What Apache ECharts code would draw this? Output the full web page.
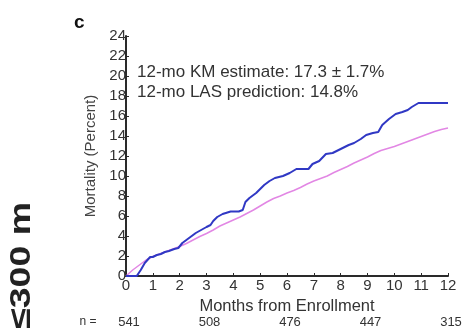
<!DOCTYPE html>
<html>
<head>
<meta charset="utf-8">
<script src="https://cdn.jsdelivr.net/npm/echarts@6/dist/echarts.min.js"></script>
<style>
  html, body { margin: 0; padding: 0; background: #fff; }
  #chart { width: 466px; height: 335px; }
</style>
</head>
<body>
<div id="chart"></div>
<script>
// Kaplan-Meier mortality estimate (months from enrollment, percent)
var kmMonths = [0, 0.4, 0.55, 0.7, 0.9, 1.0, 1.15, 1.3, 1.45, 1.6, 1.8, 1.95, 2.1, 2.3, 2.45, 2.6, 2.8, 3.0,
  3.15, 3.25, 3.4, 3.6, 3.9, 4.2, 4.35, 4.45, 4.6, 4.85, 5.0, 5.15, 5.35, 5.55, 5.85, 6.1, 6.35, 6.8,
  6.95, 7.2, 7.45, 7.7, 8.0, 8.3, 8.5, 8.75, 8.95, 9.2, 9.4, 9.55, 9.8, 10.05, 10.3, 10.5, 10.65, 10.9, 12.0];
var kmMortality = [0, 0, 0.6, 1.3, 1.9, 1.9, 2.1, 2.2, 2.4, 2.5, 2.7, 2.8, 3.3, 3.7, 4.0, 4.3, 4.6, 4.9,
  5.1, 5.5, 5.9, 6.2, 6.45, 6.45, 6.6, 7.4, 7.8, 8.3, 8.7, 9.1, 9.5, 9.8, 10.0, 10.3, 10.7, 10.7,
  11.2, 11.5, 12.2, 12.3, 12.7, 13.1, 13.3, 13.7, 14.1, 14.3, 14.4, 15.1, 15.7, 16.2, 16.4, 16.6, 16.9, 17.3, 17.3];

// Lung Allocation Score predicted mortality
var lasMonths = [0, 0.25, 0.5, 0.75, 1.0, 1.25, 1.5, 1.75, 2.0, 2.25, 2.5, 2.75, 3.0, 3.25, 3.5, 3.75, 4.0,
  4.25, 4.5, 4.75, 5.0, 5.25, 5.5, 5.75, 6.0, 6.25, 6.5, 6.75, 7.0, 7.25, 7.5, 7.75, 8.0, 8.25, 8.5,
  8.75, 9.0, 9.25, 9.5, 9.75, 10.0, 10.25, 10.5, 10.75, 11.0, 11.25, 11.5, 11.75, 12.0];
var lasMortality = [0, 0.6, 1.1, 1.6, 1.95, 2.2, 2.45, 2.7, 2.95, 3.25, 3.6, 3.95, 4.25, 4.6, 5.0, 5.3, 5.6,
  5.9, 6.25, 6.6, 7.0, 7.4, 7.75, 8.0, 8.3, 8.55, 8.85, 9.2, 9.5, 9.75, 10.0, 10.35, 10.65, 10.95, 11.3,
  11.6, 11.9, 12.25, 12.55, 12.75, 12.95, 13.2, 13.45, 13.7, 13.95, 14.2, 14.45, 14.65, 14.8];

// Number at risk every 3 months
var riskMonths = [0, 3, 6, 9, 12];
var nAtRisk = [541, 508, 476, 447, 315];

var kmText = '12-mo KM estimate: 17.3 \u00b1 1.7%';
var lasText = '12-mo LAS prediction: 14.8%';

function pairs(xs, ys) {
  return xs.map(function (x, i) { return [x, ys[i]]; });
}

var FONT = '"Liberation Sans", Arial, sans-serif';
var NARROW = '"Liberation Sans Narrow", "Liberation Sans", sans-serif';

var chart = echarts.init(document.getElementById('chart'), null, { renderer: 'canvas' });
chart.setOption({
  backgroundColor: '#fff',
  animation: false,
  grid: { left: 126, right: 18, top: 36, bottom: 59, containLabel: false },
  xAxis: [{
    type: 'value', min: 0, max: 12, interval: 1,
    name: 'Months from Enrollment', nameLocation: 'middle', nameGap: 21,
    nameTextStyle: { fontFamily: FONT, fontSize: 16.5, color: '#333' },
    axisLine: { lineStyle: { color: '#2a2a2a', width: 2 } },
    axisTick: { show: true, inside: true, length: 3, lineStyle: { color: '#2a2a2a' } },
    axisLabel: { fontFamily: FONT, fontSize: 15, color: '#333', margin: 2 },
    splitLine: { show: false }
  }, {
    type: 'value', min: 0, max: 12, interval: 3, position: 'bottom', offset: 40,
    axisLine: { show: false }, axisTick: { show: false }, splitLine: { show: false },
    axisLabel: {
      fontFamily: FONT, fontSize: 13, color: '#333', margin: 0, padding: [0, 0, 0, 6],
      formatter: function (v) { var i = riskMonths.indexOf(v); return i >= 0 ? String(nAtRisk[i]) : ''; }
    }
  }],
  yAxis: {
    type: 'value', min: 0, max: 24, interval: 2,
    name: 'Mortality (Percent)', nameLocation: 'middle', nameGap: 27,
    nameTextStyle: { fontFamily: FONT, fontSize: 15, color: '#444' },
    axisLine: { show: true, lineStyle: { color: '#2a2a2a', width: 2 } },
    axisTick: { show: true, inside: true, length: 3, lineStyle: { color: '#2a2a2a' } },
    axisLabel: { fontFamily: NARROW, fontSize: 15, color: '#333', margin: 0 },
    splitLine: { show: false }
  },
  series: [{
    name: 'LAS', type: 'line', xAxisIndex: 0, data: pairs(lasMonths, lasMortality),
    showSymbol: false, lineStyle: { color: '#e287e4', width: 1.5 }, z: 2
  }, {
    name: 'KM', type: 'line', xAxisIndex: 0, data: pairs(kmMonths, kmMortality),
    showSymbol: false, lineStyle: { color: '#3038c4', width: 2 }, z: 3
  }],
  graphic: [
    { type: 'text', left: 74, top: 13, style: { text: 'c', font: 'bold 19px ' + FONT, fill: '#111' } },
    { type: 'text', x: 137, y: 72, style: { text: kmText, font: '17px ' + FONT, fill: '#333', textVerticalAlign: 'middle' } },
    { type: 'text', x: 137, y: 92, style: { text: lasText, font: '17px ' + FONT, fill: '#333', textVerticalAlign: 'middle' } },
    { type: 'text', x: 88, y: 322, style: { text: 'n =', font: '12px ' + FONT, fill: '#333', textAlign: 'center', textVerticalAlign: 'middle' } },
    { type: 'text', x: 22, y: 202, rotation: Math.PI / 2, scaleX: 1.25,
      style: { text: '\u2264300 m', font: 'bold 30px ' + FONT, fill: '#222', textAlign: 'right', textVerticalAlign: 'middle' } }
  ]
});
</script>
</body>
</html>
